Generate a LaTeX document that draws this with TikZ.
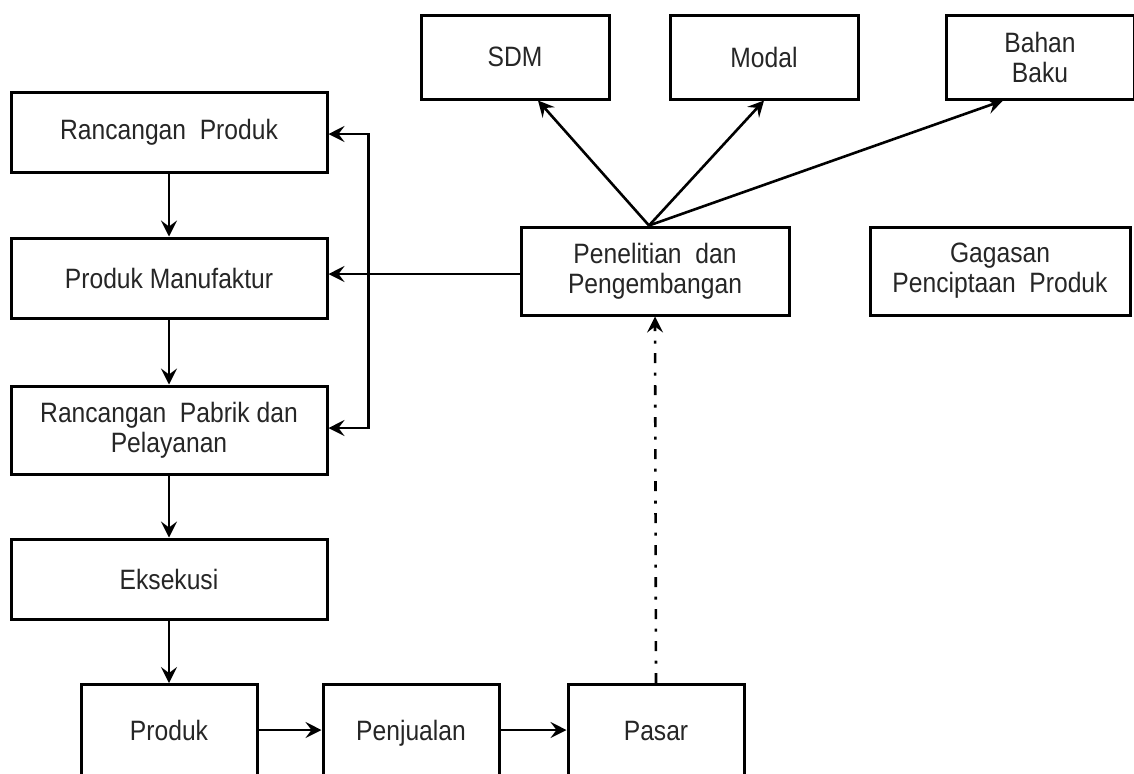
\documentclass[tikz,border=0pt]{standalone}
\usepackage{fontspec}
\setmainfont{Liberation Sans}[FakeStretch=0.88]
\usepackage{tikz}
\usetikzlibrary{arrows.meta, positioning, calc}

\begin{document}
\begin{tikzpicture}[
    x=0.5pt, y=-0.5pt,
    txt/.style={font=\fontsize{14}{15}\selectfont, text=black!85},
    box/.style={rectangle, draw, line width=1.5pt, minimum width=158pt, minimum height=40pt, align=center, txt, inner sep=2pt},
    topbox/.style={box, minimum width=94pt, minimum height=42pt},
    lowbox/.style={box, anchor=north, minimum width=88pt, minimum height=70pt},
    ptr/.style={line width=1.3pt, -{Stealth[length=8pt, width=8pt, inset=3pt]}},
    dashdot/.style={ptr, dash pattern=on 5pt off 4.75pt on 1.5pt off 4.75pt}
]
\clip (0,0) rectangle (1134,773);
\fill[white] (0,0) rectangle (1134,773);

% left column
\node[box] (rprod) at (169,132) {Rancangan\ \ Produk};
\node[box, below=31.5pt of rprod] (pman) {Produk Manufaktur};
\node[box, below=32.5pt of pman, minimum height=44pt] (rpabrik) {Rancangan\ \ Pabrik dan\\Pelayanan};
\node[box, below=31pt of rpabrik] (eks) {Eksekusi};

% bottom row
\node[lowbox] (produk) at (169,683) {};
\node[lowbox] (jual) at (411,683) {};
\node[lowbox] (pasar) at (656,683) {};
\node[txt, anchor=base] at (produk.center |- 0,740) {Produk};
\node[txt, anchor=base] at (jual.center |- 0,740) {Penjualan};
\node[txt, anchor=base] at (pasar.center |- 0,740) {Pasar};

% research block
\node[box, minimum width=134pt, minimum height=44pt] (riset) at (655,271) {Penelitian\ \ dan\\Pengembangan};
\node[box, right=39pt of riset, minimum width=130pt, minimum height=44pt] (gagasan) {Gagasan\\Penciptaan\ \ Produk};

% resources
\node[topbox] (sdm) at (515,57) {SDM};
\node[topbox, right=29pt of sdm] (modal) {Modal};
\node[topbox, right=42.5pt of modal] (bahan) {Bahan\\Baku};

% connectors
\draw[ptr] (rprod) -- (pman);
\draw[ptr] (pman) -- (rpabrik);
\draw[ptr] (rpabrik) -- (eks);
\draw[ptr] (eks) -- (produk);
\draw[ptr] (produk.east |- 0,730) -- (jual.west |- 0,730);
\draw[ptr] (jual.east |- 0,730) -- (pasar.west |- 0,730);
\draw[dashdot] (pasar.north) -- (riset.south);

\draw[ptr] (riset.west |- 0,274) -- (pman.east |- 0,274);
\coordinate (bus) at ([xshift=20pt]pman.east);
\draw[line width=1.3pt, {Stealth[length=8pt, width=8pt, inset=3pt]}-{Stealth[length=8pt, width=8pt, inset=3pt]}]
    ([yshift=-1pt]rprod.east) -- ([yshift=-1pt]bus |- rprod.east) -- ([yshift=1pt]bus |- rpabrik.east) -- ([yshift=1pt]rpabrik.east);

\draw[ptr] ([xshift=-3pt]riset.north) -- ([xshift=11.5pt]sdm.south);
\draw[ptr] ([xshift=-3pt]riset.north) -- (modal.south);
\draw[ptr] ([xshift=-3pt]riset.north) -- ([xshift=-18.5pt]bahan.south);
\end{tikzpicture}
\end{document}
